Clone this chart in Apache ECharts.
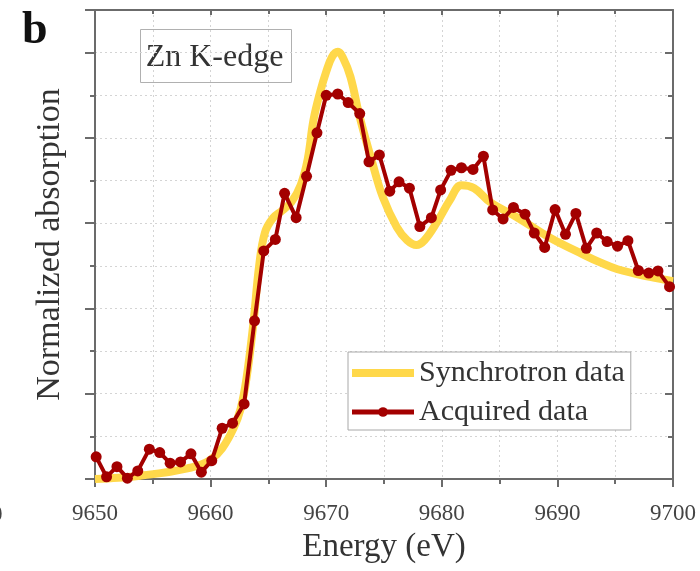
<!DOCTYPE html>
<html>
<head>
<meta charset="utf-8">
<script src="https://cdn.jsdelivr.net/npm/echarts@6/dist/echarts.min.js"></script>
<style>
  html, body { margin: 0; padding: 0; background: #fff; }
  #chart { width: 700px; height: 571px; }
</style>
</head>
<body>
<div id="chart"></div>
<script>
// Synchrotron reference spectrum (smooth yellow curve)
var synEnergy = [9650.0, 9652.0, 9654.0, 9655.2, 9656.5, 9658.0, 9659.0, 9660.0, 9661.0, 9662.0, 9662.6, 9663.1,
  9663.7, 9664.2, 9664.7, 9665.4, 9666.2, 9667.0, 9667.8, 9668.4, 9668.9, 9669.5, 9670.0, 9670.5, 9671.0,
  9671.5, 9672.1, 9672.9, 9674.0, 9674.9, 9676.1, 9677.0, 9677.8, 9678.5, 9679.6, 9680.7, 9681.7, 9682.8,
  9684.2, 9686.5, 9689.4, 9692.2, 9693.7, 9695.2, 9698.0, 9700.0];
var synAbs = [0.000, 0.003, 0.008, 0.012, 0.017, 0.025, 0.032, 0.045, 0.072, 0.120, 0.165, 0.235,
  0.365, 0.500, 0.578, 0.612, 0.630, 0.650, 0.690, 0.750, 0.842, 0.910, 0.955, 0.990, 1.002,
  0.985, 0.943, 0.849, 0.741, 0.661, 0.591, 0.560, 0.549, 0.560, 0.603, 0.654, 0.689, 0.682,
  0.649, 0.614, 0.565, 0.527, 0.508, 0.492, 0.474, 0.464];

// Acquired data (red line with dots)
var acqEnergy = [9650.1, 9651.0, 9651.9, 9652.8, 9653.7, 9654.7, 9655.6, 9656.5, 9657.4, 9658.3,
  9659.2, 9660.1, 9661.0, 9661.9, 9662.9, 9663.8, 9664.6, 9665.6, 9666.4, 9667.4,
  9668.3, 9669.2, 9670.0, 9671.0, 9671.9, 9672.9, 9673.7, 9674.6, 9675.5, 9676.3,
  9677.2, 9678.1, 9679.1, 9679.9, 9680.8, 9681.7, 9682.7, 9683.6, 9684.4, 9685.3,
  9686.2, 9687.2, 9688.0, 9688.9, 9689.8, 9690.7, 9691.6, 9692.5, 9693.4, 9694.3,
  9695.2, 9696.1, 9697.0, 9697.9, 9698.7, 9699.7];
var acqAbs = [0.052, 0.005, 0.029, 0.002, 0.019, 0.070, 0.062, 0.037, 0.040, 0.059,
  0.016, 0.043, 0.119, 0.131, 0.176, 0.371, 0.535, 0.562, 0.670, 0.613,
  0.710, 0.812, 0.900, 0.903, 0.883, 0.857, 0.744, 0.760, 0.675, 0.697,
  0.682, 0.592, 0.613, 0.678, 0.724, 0.730, 0.726, 0.757, 0.631, 0.610,
  0.637, 0.621, 0.577, 0.543, 0.632, 0.574, 0.623, 0.541, 0.577, 0.557,
  0.546, 0.559, 0.489, 0.483, 0.488, 0.451];

var xTicks = [9650, 9660, 9670, 9680, 9690, 9700];

var serif = "'Liberation Serif', 'Times New Roman', serif";
var axisGray = "#6b6b6b";
var gridLine = { show: true, lineStyle: { color: "#d4d4d4", width: 1, type: [2, 3] } };

function pairs(xs, ys) {
  var out = [];
  for (var i = 0; i < xs.length; i++) out.push([xs[i], ys[i]]);
  return out;
}

var chart = echarts.init(document.getElementById("chart"));

var option = {
  animation: false,
  grid: { left: 95, right: 27, top: 10, bottom: 92, containLabel: false, outerBoundsMode: "none" },
  legend: {
    orient: "vertical",
    left: 348,
    top: 352,
    width: 285,
    padding: [6, 6, 3, 0],
    itemGap: 9,
    itemWidth: 62,
    itemHeight: 12,
    borderColor: "#a8a8a8",
    borderWidth: 1,
    backgroundColor: "#fff",
    textStyle: { fontFamily: serif, fontSize: 30, color: "#333", padding: [0, 0, 0, 0] },
    data: [
      { name: "Synchrotron data", lineStyle: { width: 8 }, itemStyle: { opacity: 0 } },
      { name: "Acquired data", lineStyle: { width: 5 } }
    ]
  },
  xAxis: [
    {
      type: "value",
      min: 9650,
      max: 9700,
      interval: 10,
      position: "bottom",
      name: "Energy (eV)",
      nameLocation: "middle",
      nameGap: 52,
      nameTextStyle: { fontFamily: serif, fontSize: 33, color: "#333" },
      axisLine: { onZero: false, lineStyle: { color: axisGray, width: 2 } },
      axisTick: { inside: false, length: 8, lineStyle: { color: axisGray, width: 2 } },
      minorTick: { show: true, splitNumber: 2, length: 5, lineStyle: { color: axisGray, width: 2 } },
      axisLabel: {
        margin: 23,
        fontFamily: serif,
        fontSize: 23,
        color: "#444",
        customValues: xTicks,
        formatter: function (v) { return String(v); }
      },
      splitLine: gridLine,
      minorSplitLine: gridLine
    },
    {
      type: "value",
      min: 9650,
      max: 9700,
      interval: 10,
      position: "top",
      axisLine: { onZero: false, lineStyle: { color: axisGray, width: 2 } },
      axisTick: { inside: true, length: 5, lineStyle: { color: axisGray, width: 2 } },
      minorTick: { show: true, splitNumber: 2, length: 4, lineStyle: { color: axisGray, width: 2 } },
      axisLabel: { show: false },
      splitLine: { show: false }
    }
  ],
  yAxis: [
    {
      type: "value",
      min: 0,
      max: 1.1,
      interval: 0.2,
      position: "left",
      name: "Normalized absorption",
      nameLocation: "middle",
      nameGap: 28,
      nameTextStyle: { fontFamily: serif, fontSize: 34, color: "#333" },
      axisLine: { show: true, onZero: false, lineStyle: { color: axisGray, width: 2 } },
      axisTick: { show: true, inside: false, length: 10, lineStyle: { color: axisGray, width: 2 } },
      minorTick: { show: true, splitNumber: 2, length: 5, lineStyle: { color: axisGray, width: 2 } },
      axisLabel: { show: false },
      splitLine: gridLine,
      minorSplitLine: gridLine
    },
    {
      type: "value",
      min: 0,
      max: 1.1,
      interval: 0.2,
      position: "right",
      axisLine: { show: true, onZero: false, lineStyle: { color: axisGray, width: 2 } },
      axisTick: { show: true, inside: true, length: 8, lineStyle: { color: axisGray, width: 2 } },
      minorTick: { show: true, splitNumber: 2, length: 5, lineStyle: { color: axisGray, width: 2 } },
      axisLabel: { show: false },
      splitLine: { show: false }
    }
  ],
  graphic: [
    {
      type: "text",
      left: 22,
      top: 8,
      style: { text: "b", fontFamily: serif, fontSize: 46, fontWeight: "bold", fill: "#111" }
    },
    {
      type: "text",
      left: -9,
      top: 503,
      style: { text: "0", fontFamily: serif, fontSize: 23, fill: "#444" }
    },
    {
      type: "group",
      left: 140,
      top: 29,
      children: [
        {
          type: "rect",
          shape: { x: 0, y: 0, width: 151, height: 53 },
          style: { fill: "#fff", stroke: "#b0b0b0", lineWidth: 1 }
        },
        {
          type: "text",
          x: 74,
          y: 28,
          style: {
            text: "Zn K-edge",
            fontFamily: serif,
            fontSize: 32,
            fill: "#333",
            align: "center",
            verticalAlign: "middle"
          }
        }
      ]
    }
  ],
  series: [
    {
      name: "Synchrotron data",
      type: "line",
      smooth: 0.4,
      symbol: "none",
      lineStyle: { color: "#ffd84a", width: 8 },
      itemStyle: { color: "#ffd84a" },
      data: pairs(synEnergy, synAbs),
      z: 2
    },
    {
      name: "Acquired data",
      type: "line",
      symbol: "circle",
      symbolSize: 11,
      lineStyle: { color: "#a30000", width: 4 },
      itemStyle: { color: "#a30000" },
      data: pairs(acqEnergy, acqAbs),
      z: 3
    }
  ]
};

chart.setOption(option);
</script>
</body>
</html>
